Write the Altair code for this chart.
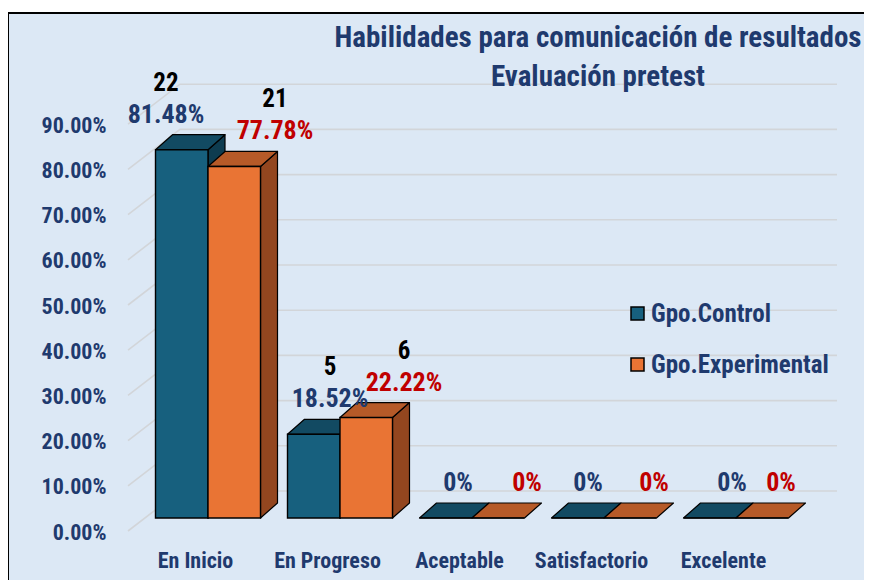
import json
import altair as alt
import pandas as pd

# ---------------- data ----------------
categories = ["En Inicio", "En Progreso", "Aceptable", "Satisfactorio", "Excelente"]
groups = ["Gpo.Control", "Gpo.Experimental"]
control_pct = [81.48, 18.52, 0.0, 0.0, 0.0]
experimental_pct = [77.78, 22.22, 0.0, 0.0, 0.0]
control_n = [22, 5, 0, 0, 0]
experimental_n = [21, 6, 0, 0, 0]
y_ticks = [0, 10, 20, 30, 40, 50, 60, 70, 80, 90]
title_lines = ["Habilidades para comunicación de resultados", "Evaluación pretest"]

# ---------------- layout / style ----------------
W, H = 856, 567
PX_CAT = 132.0          # px between category centres
PX_PCT = 4.52           # px per percentage point
X0_PX = 200.0           # plot x of first category centre
Y0_PX = 505.0           # plot y of 0 % at the bar fronts
BAR_PX = 52.5
DEPTH_X, DEPTH_Y = 17.0, 15.0
FLOOR_FRONT, FLOOR_BACK = 13.0, 27.0   # px below / above bar base
GRID_XF, GRID_XB, GRID_XR = 128.0, 180.0, 837.0  # page x of grid pieces
# per-category label nudges (px) for the value labels
LABEL_DX = {"Gpo.Control": [-42, -10, -14, -16, -4],
            "Gpo.Experimental": [67, 64, 55, 50, 45]}

FONT = "Liberation Sans Narrow, Roboto Condensed, Arial Narrow, Roboto, sans-serif"
BG = "#DCE8F5"
NAVY = "#1F3A6E"
RED = "#C00000"
GRID = "#D2D5D9"
COL = {
    "Gpo.Control": {"front": "#17607E", "top": "#124A62", "side": "#0E3C50"},
    "Gpo.Experimental": {"front": "#E97434", "top": "#B65A28", "side": "#93461F"},
}

BW = BAR_PX / PX_CAT
DX = DEPTH_X / PX_CAT
DY = DEPTH_Y / PX_PCT
x_dom = [-X0_PX / PX_CAT, (W - X0_PX) / PX_CAT]
y_dom = [-(H - Y0_PX) / PX_PCT, Y0_PX / PX_PCT]
XS = alt.Scale(domain=x_dom, nice=False, zero=False)
YS = alt.Scale(domain=y_dom, nice=False, zero=False)


def page_x_to_unit(px):
    return (px - 8 - X0_PX) / PX_CAT


cat_expr = json.dumps(categories)
XAX = alt.Axis(values=list(range(len(categories))),
               labelExpr=f"{cat_expr}[datum.value]",
               orient="bottom", offset=-20, domain=False, ticks=False, tickSize=0,
               grid=False, labelPadding=0, labelBaseline="middle", labelOffset=-13,
               labelFont=FONT, labelFontSize=22, labelFontWeight="bold",
               labelColor=NAVY, labelFlush=False, labelOverlap=False, labelBound=False,
               title=None)
YAX = alt.Axis(values=y_ticks, labelExpr="format(datum.value/100, '.2%')",
               orient="left", offset=-98, domain=False, ticks=False, tickSize=0,
               grid=False, labelPadding=0, labelOffset=14,
               labelFont=FONT, labelFontSize=22, labelFontWeight="bold",
               labelColor=NAVY, labelFlush=False, labelOverlap=False, labelBound=False,
               title=None)


def X(field):
    return alt.X(field, scale=XS, axis=XAX, title=None)


def Y(field):
    return alt.Y(field, scale=YS, axis=YAX, title=None, stack=None)


# ---------------- build tables ----------------
values = {"Gpo.Control": control_pct, "Gpo.Experimental": experimental_pct}
counts = {"Gpo.Control": control_n, "Gpo.Experimental": experimental_n}

front_rows, top_rows, side_rows, label_rows = [], [], [], []
for gi, g in enumerate(groups):
    for i, cat in enumerate(categories):
        v = values[g][i]
        x0 = i - BW + gi * BW
        x1 = x0 + BW
        bid = f"{g}-{i}"
        front_rows.append({"group": g, "x": x0, "xe": x1, "y": 0.0, "ye": v})
        if v > 0:
            side_rows += [
                {"group": g, "bar": bid, "x": x1, "y": 0.0, "ye": v},
                {"group": g, "bar": bid, "x": x1 + DX, "y": DY, "ye": v + DY},
            ]
        top_rows += [
            {"group": g, "bar": bid, "x": x0, "y": v, "ye": v},
            {"group": g, "bar": bid, "x": x0 + DX, "y": v, "ye": v + DY},
            {"group": g, "bar": bid, "x": x1, "y": v, "ye": v + DY},
            {"group": g, "bar": bid, "x": x1 + DX, "y": v + DY, "ye": v + DY},
        ]
        pct_txt = f"{v:.2f}%" if v > 0 else "0%"
        label_rows.append({"group": g, "x": i + LABEL_DX[g][i] / PX_CAT, "y": v,
                           "pct": pct_txt, "n": counts[g][i],
                           "ntxt": str(counts[g][i]) if counts[g][i] > 0 else ""})

front_df = pd.DataFrame(front_rows)
top_df = pd.DataFrame(top_rows)
side_df = pd.DataFrame(side_rows)
label_df = pd.DataFrame(label_rows)

xb_l, xb_r, xf_l = page_x_to_unit(GRID_XB), page_x_to_unit(GRID_XR), page_x_to_unit(GRID_XF)
grid_rows = []
for t in y_ticks:
    yb = t + FLOOR_BACK / PX_PCT
    yf = t - FLOOR_FRONT / PX_PCT
    grid_rows += [{"tick": t, "x": xf_l, "y": yf},
                  {"tick": t, "x": xb_l, "y": yb},
                  {"tick": t, "x": xb_r, "y": yb}]
grid_df = pd.DataFrame(grid_rows)

color_enc = alt.Color("group:N",
                      scale=alt.Scale(domain=groups,
                                      range=[COL[g]["front"] for g in groups]),
                      legend=alt.Legend(orient="none", legendX=617, legendY=288,
                                        title=None, symbolType="square", symbolSize=169,
                                        symbolStrokeColor="black", symbolStrokeWidth=1.5,
                                        symbolOpacity=1, labelFont=FONT, labelFontSize=25,
                                        labelFontWeight="bold", labelColor=NAVY,
                                        labelLimit=0, rowPadding=25, labelOffset=1,
                                        padding=0))

one = pd.DataFrame({"k": [0]})
layers = []
grid = alt.Chart(grid_df).mark_line(color=GRID, strokeWidth=1.6).encode(
    x=X("x:Q"), y=Y("y:Q"), detail="tick:N")
layers.append(grid)

for g in groups:
    sd = side_df[side_df.group == g]
    td = top_df[top_df.group == g]
    fd = front_df[front_df.group == g]
    layers.append(alt.Chart(sd).mark_area(orient="vertical", fill=COL[g]["side"],
                                          stroke="black", strokeWidth=1.2,
                                          strokeJoin="round").encode(
        x=X("x:Q"), y=Y("y:Q"), y2="ye:Q", detail="bar:N"))
    layers.append(alt.Chart(td).mark_area(orient="vertical", fill=COL[g]["top"],
                                          stroke="black", strokeWidth=1.2,
                                          strokeJoin="round").encode(
        x=X("x:Q"), y=Y("y:Q"), y2="ye:Q", detail="bar:N"))
    layers.append(alt.Chart(fd).mark_rect(stroke="black", strokeWidth=1.4).encode(
        x=X("x:Q"), x2="xe:Q", y=Y("y:Q"), y2="ye:Q", color=color_enc))

for g, c in zip(groups, [NAVY, RED]):
    ld = label_df[label_df.group == g]
    layers.append(alt.Chart(ld).mark_text(font=FONT, fontSize=26, fontWeight="bold",
                                          color=c, dy=-35, baseline="middle").encode(
        x=X("x:Q"), y=Y("y:Q"), text="pct:N"))
    layers.append(alt.Chart(ld[ld.n > 0]).mark_text(font=FONT, fontSize=25,
                                                    fontWeight="bold", color="black",
                                                    dy=-67, baseline="middle").encode(
        x=X("x:Q"), y=Y("y:Q"), text="ntxt:N"))

# frame: top and left edges of the chart area
layers.append(alt.Chart(one).mark_rule(color="black", strokeWidth=2).encode(
    x=alt.value(0), x2=alt.value(W), y=alt.value(0)))
layers.append(alt.Chart(one).mark_rule(color="black", strokeWidth=2).encode(
    x=alt.value(0), y=alt.value(0), y2=alt.value(H)))

chart = alt.layer(*layers).properties(
    width=W, height=H,
    background="white",
    padding={"top": 5, "left": 0, "right": 0, "bottom": 0},
    autosize=alt.AutoSizeParams(type="none"),
    title=alt.TitleParams(text=title_lines, anchor="middle", dx=162, offset=-80,
                          baseline="top", font=FONT, fontSize=29, fontWeight="bold",
                          color=NAVY, lineHeight=39),
).configure_view(fill=BG, stroke=None)

chart.save("out.html", embed_options={"renderer": "svg", "actions": False})
